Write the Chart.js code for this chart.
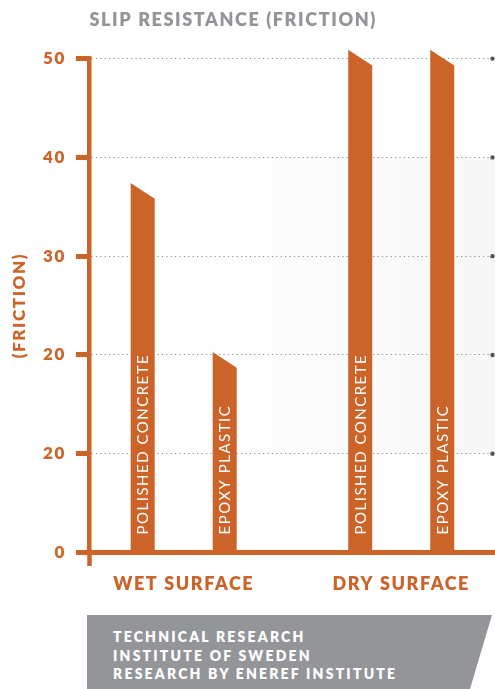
<!DOCTYPE html>
<html>
<head>
<meta charset="utf-8">
<title>Slip resistance</title>
<script src="https://cdn.jsdelivr.net/npm/chart.js@4/dist/chart.umd.min.js"></script>
<style>
  html, body { margin: 0; padding: 0; background: #fff; overflow: hidden; }
  #wrap { position: relative; width: 495px; height: 689px; }
  #footer {
    position: absolute; left: 87px; top: 615px; width: 405px; height: 74px;
    background: #939598; color: #fff;
    clip-path: polygon(0 0, 405px 0, 383px 74px, 0 74px);
    font: 800 14px Lato, sans-serif; letter-spacing: 2.2px; line-height: 18.7px;
    padding: 13px 0 0 26px; box-sizing: border-box;
  }
</style>
</head>
<body>
<div id="wrap">
  <canvas id="chart"></canvas>
  <div id="footer">TECHNICAL RESEARCH<br>INSTITUTE OF SWEDEN<br>RESEARCH BY ENEREF INSTITUTE</div>
</div>
<script>
// data
const categories = ['WET SURFACE', 'DRY SURFACE'];
const materials = ['POLISHED CONCRETE', 'EPOXY PLASTIC'];
const polishedConcrete = [37.4, 50.9];
const epoxyPlastic = [20.3, 50.9];
const yTickLabels = ['0', '20', '20', '30', '40', '50'];

const orange = '#cc6429';
const boldFont = (size) => ({ family: 'Lato', size: size, weight: 800 });

// canvas has no letter-spacing option in chart.js, set it on the context
const spacing = {
  id: 'spacing',
  beforeLayout(chart) { chart.ctx.letterSpacing = '1.6px'; },
  beforeDraw(chart) { chart.ctx.letterSpacing = '1.6px'; }
};

// faint grey band behind the middle of the plot
const band = {
  id: 'band',
  beforeDraw(chart) {
    const { ctx, chartArea, scales: { y } } = chart;
    const top = y.getPixelForValue(40);
    const bottom = y.getPixelForValue(10);
    const x0 = chartArea.left + 100;
    const g = ctx.createLinearGradient(x0, 0, chartArea.right, 0);
    g.addColorStop(0, 'rgba(247,247,248,0)');
    g.addColorStop(1, 'rgba(247,247,248,1)');
    ctx.save();
    ctx.fillStyle = g;
    ctx.fillRect(x0, top, chartArea.right - x0, bottom - top);
    ctx.restore();
  }
};

// cut the slanted tops and write the material names inside the bars
const slant = {
  id: 'slant',
  beforeDatasetsDraw(chart) {
    const ctx = chart.ctx;
    ctx.save();
    ctx.beginPath();
    ctx.rect(0, 0, chart.width, chart.height);
    chart.data.datasets.forEach((ds, i) => {
      chart.getDatasetMeta(i).data.forEach(bar => {
        const { x, y, width } = bar.getProps(['x', 'y', 'width'], true);
        const l = x - width / 2, r = x + width / 2;
        const drop = width * 0.65, s = drop / width;
        ctx.moveTo(l - 2, y - 2 * s);
        ctx.lineTo(r + 2, y + drop + 2 * s);
        ctx.lineTo(r + 2, y - 6);
        ctx.lineTo(l - 2, y - 6);
        ctx.closePath();
      });
    });
    ctx.clip('evenodd');
  },
  afterDatasetsDraw(chart) {
    const ctx = chart.ctx;
    ctx.restore();
    ctx.save();
    ctx.fillStyle = '#fff';
    ctx.font = '15px Lato';
    ctx.letterSpacing = '1.5px';
    ctx.textAlign = 'left';
    ctx.textBaseline = 'alphabetic';
    chart.data.datasets.forEach((ds, i) => {
      chart.getDatasetMeta(i).data.forEach(bar => {
        const { x, base } = bar.getProps(['x', 'base'], true);
        ctx.save();
        ctx.translate(x, base - 17.5);
        ctx.rotate(-Math.PI / 2);
        ctx.fillText(ds.label, 0, 5.4);
        ctx.restore();
      });
    });
    ctx.restore();
  }
};

// axis stub below zero and the dots at the end of the grid lines
const axisExtras = {
  id: 'axisExtras',
  afterDraw(chart) {
    const { ctx, chartArea, scales: { y } } = chart;
    ctx.save();
    ctx.strokeStyle = orange;
    ctx.lineWidth = 4.5;
    ctx.beginPath();
    ctx.moveTo(chartArea.left, chartArea.bottom);
    ctx.lineTo(chartArea.left, chartArea.bottom + 13.5);
    ctx.stroke();
    ctx.fillStyle = '#555';
    y.ticks.forEach((t, i) => {
      if (t.value > 0) {
        ctx.beginPath();
        ctx.arc(chartArea.right - 2.5, y.getPixelForTick(i), 2.2, 0, Math.PI * 2);
        ctx.fill();
      }
    });
    ctx.restore();
  }
};

new Chart(document.getElementById('chart'), {
  type: 'bar',
  data: {
    datasets: [
      { label: materials[0], data: polishedConcrete.map((v, i) => ({ x: i, y: v })), backgroundColor: orange, clip: false },
      { label: materials[1], data: epoxyPlastic.map((v, i) => ({ x: i, y: v })), backgroundColor: orange, clip: false }
    ]
  },
  options: {
    responsive: true,
    maintainAspectRatio: false,
    animation: false,
    barPercentage: 0.293,
    categoryPercentage: 0.754,
    layout: { padding: { top: 0, right: 0, bottom: 73.5, left: 0 } },
    plugins: {
      legend: { display: false },
      tooltip: { enabled: false },
      title: {
        display: true,
        text: 'SLIP RESISTANCE (FRICTION)',
        align: 'start',
        fullSize: false,
        color: '#939598',
        font: boldFont(18),
        padding: { top: 9, bottom: 28 }
      }
    },
    scales: {
      x: {
        type: 'linear',
        min: -0.433,
        max: 1.431,
        offset: false,
        grid: { display: false, drawTicks: false },
        border: { display: true, color: orange, width: 5 },
        ticks: {
          stepSize: 1,
          includeBounds: false,
          autoSkip: false,
          maxRotation: 0,
          padding: 20.7,
          color: orange,
          font: boldFont(18),
          callback: (v) => Number.isInteger(v) ? categories[v] : ''
        }
      },
      y: {
        min: 0,
        max: 50,
        afterFit: (s) => { s.width = 89.5; },
        grid: { color: '#8a8a8a', lineWidth: 1, tickColor: orange, tickWidth: 5, tickLength: 13.5 },
        border: { color: orange, width: 4.5, dash: [1.2, 3.2] },
        ticks: {
          stepSize: 10,
          padding: 10,
          color: orange,
          font: boldFont(17),
          callback: (v, i) => yTickLabels[i]
        },
        title: {
          display: true,
          text: '(FRICTION)',
          color: orange,
          font: boldFont(17),
          padding: { top: 9.5, bottom: 0 }
        }
      }
    }
  },
  plugins: [spacing, band, slant, axisExtras]
});
</script>
</body>
</html>
